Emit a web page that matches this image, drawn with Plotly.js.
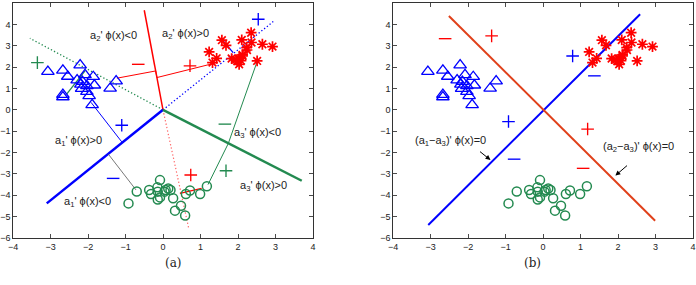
<!DOCTYPE html>
<html><head><meta charset="utf-8">
<script src="https://cdn.plot.ly/plotly-3.0.1.min.js"></script>
<style>html,body{margin:0;padding:0;background:#fff}#c{width:696px;height:285px}</style>
</head><body><div id="c"></div>
<script>
// ---- data ----
const triX = [-3.07,-2.67,-2.21,-2.54,-1.86,-2.29,-2.15,-2.08,-2.03,-1.83,-2.19,-2.67,-2.67,-2.03,-1.97,-1.89,-1.25,-1.41,-2.17];
const triY = [1.79,1.85,2.09,1.56,1.55,1.39,1.32,1.64,1.12,1.15,1.19,0.71,0.60,0.85,0.65,0.23,1.34,1.00,0.99];
const astX = [1.23,1.32,1.43,1.57,1.68,1.83,1.95,2.02,2.08,2.12,1.98,2.03,2.10,2.35,2.36,2.23,2.24,2.65,2.92,2.51,2.12];
const astY = [2.71,2.21,2.41,3.26,3.02,2.40,2.35,2.38,2.30,2.52,2.28,2.13,3.27,3.61,3.15,2.91,2.80,3.07,2.96,2.29,2.57];
const cirX = [-0.92,-0.70,-0.37,-0.32,-0.14,-0.08,-0.15,-0.08,-0.14,0.07,0.14,0.04,0.27,0.32,0.48,0.59,0.61,0.72,0.99,1.17,0.20];
const cirY = [-4.38,-3.82,-3.75,-3.94,-3.83,-3.29,-3.63,-4.10,-4.20,-3.75,-3.68,-3.83,-4.14,-4.72,-4.49,-4.95,-3.94,-3.78,-3.94,-3.58,-3.75];

// panel (a) boundary lines
const redBoundX = [-0.5, 0], redBoundY = [4.66, 0];
const redDotX = [0, 0.68], redDotY = [0, -5.5];
const blueBoundX = [0, -3.1], blueBoundY = [0, -4.38];
const blueDotX = [0, 2.94], blueDotY = [0, 4.13];
const greenBoundX = [0, 3.7], greenBoundY = [0, -3.32];
const greenDotX = [0, -3.55], greenDotY = [0, 3.35];
// panel (a) margin lines
const redMarX = [-1.23, -0.195, -0.162, 1.37], redMarY = [1.48, 1.82, 1.51, 2.18];
const redShortX = [0.45, 1.03], redShortY = [-3.91, -3.68];
const blueMarX = [-1.92, -1.1], blueMarY = [0.35, -1.5];
const blueShortX = [1.57, 1.87], blueShortY = [3.3, 2.68];
const grayMarX = [-1.46, -0.72], grayMarY = [-2.07, -3.75];
const greenMarX = [2.5, 1.74, 1.2], greenMarY = [2.21, -1.58, -3.5];
const greenShortX = [-2.57, -2.08], greenShortY = [0.73, 1.82];

// panel (a) signs
const aPlusX = [-3.35, 2.54, 0.72, -1.1, 0.74, 1.68];
const aPlusY = [2.21, 4.24, 2.06, -0.72, -3.05, -2.85];
const aPlusC = ['g','b','r','b','r','g'];
const aMinusX = [-0.66, 1.65, -1.33];
const aMinusY = [2.13, -0.67, -3.21];
const aMinusC = ['r','g','b'];

// panel (a) labels
const aLabels = ["a<sub>2</sub>' ϕ(x)&lt;0","a<sub>2</sub>' ϕ(x)&gt;0","a<sub>3</sub>' ϕ(x)&lt;0","a<sub>1</sub>' ϕ(x)&gt;0","a<sub>3</sub>' ϕ(x)&gt;0","a<sub>1</sub>' ϕ(x)&lt;0"];
const aLabelX = [-1.33, 0.59, 2.53, -2.26, 2.67, -2.02];
const aLabelY = [3.46, 3.55, -1.07, -1.45, -3.55, -4.33];

// panel (b)
const bBlueX = [-3.06, 2.59], bBlueY = [-5.39, 4.47];
const bRedX = [-2.51, 2.99], bRedY = [4.39, -5.19];
const bPlusX = [-1.37, 0.79, -0.92, 1.19];
const bPlusY = [3.46, 2.52, -0.55, -0.9];
const bPlusC = ['r','b','b','r'];
const bMinusX = [-2.61, 1.37, -0.77, 1.07];
const bMinusY = [3.33, 1.59, -2.31, -2.74];
const bMinusC = ['r','b','b','r'];
const bLabels = ["(a<sub>1</sub>−a<sub>3</sub>)' ϕ(x)=0", "(a<sub>2</sub>−a<sub>3</sub>)' ϕ(x)=0"];
const bLabelX = [-2.48, 2.54], bLabelY = [-1.45, -1.73];
const bArrowTipX = [-1.4, 1.93], bArrowTipY = [-2.35, -3.08];
const bArrowTailX = [-1.72, 2.28], bArrowTailY = [-1.9, -2.55];

const tickVals = [-4,-3,-2,-1,0,1,2,3,4];
const yTickVals = [-6,-5,-4,-3,-2,-1,0,1,2,3,4,5];

// ---- styles ----
const COL = {b:'#0000ff', r:'#ff0000', g:'#238a50', k:'#555555'};
const REDB = '#e0401a';

function line(x, y, color, width, dash, ax) {
  return {x, y, type:'scatter', mode:'lines', xaxis:ax[0], yaxis:ax[1],
    line:{color, width, dash: dash||'solid'}, hoverinfo:'skip', showlegend:false};
}
function pts(x, y, symbol, color, size, lw, ax) {
  return {x, y, type:'scatter', mode:'markers', xaxis:ax[0], yaxis:ax[1],
    marker:{symbol, size, color, line:{color, width:lw}}, hoverinfo:'skip', showlegend:false};
}
function signs(x, y, c, symbol, ax) {
  const cols = c.map(k=>COL[k]);
  return {x, y, type:'scatter', mode:'markers', xaxis:ax[0], yaxis:ax[1],
    marker:{symbol, size:9, color:cols, line:{color:cols, width:1.35}}, hoverinfo:'skip', showlegend:false};
}
const A = ['x','y'], B = ['x2','y2'];
const DOT = '1.3px,2.2px';
function dataPts(ax) {
  return [
    pts(triX, triY, 'triangle-up-open', COL.b, 11, 1.3, ax),
    pts(astX, astY, 'asterisk-open', COL.r, 9, 1.7, ax),
    pts(cirX, cirY, 'circle-open', COL.g, 9, 1.5, ax)
  ];
}
const traces = [
  line(greenDotX, greenDotY, COL.g, 1.3, DOT, A),
  line(blueDotX, blueDotY, COL.b, 1.3, DOT, A),
  line(redDotX, redDotY, '#ff6666', 1.2, DOT, A),
  line(redBoundX, redBoundY, COL.r, 1.5, 'solid', A),
  line(blueBoundX, blueBoundY, COL.b, 2.5, 'solid', A),
  line(greenBoundX, greenBoundY, COL.g, 2.5, 'solid', A),
  line(redMarX, redMarY, COL.r, 1, 'solid', A),
  line(redShortX, redShortY, COL.r, 1.3, 'solid', A),
  line(blueMarX, blueMarY, COL.b, 1, 'solid', A),
  line(blueShortX, blueShortY, COL.b, 1.3, 'solid', A),
  line(grayMarX, grayMarY, COL.k, 0.8, 'solid', A),
  line(greenMarX, greenMarY, COL.g, 1, 'solid', A),
  line(greenShortX, greenShortY, COL.g, 1.3, 'solid', A),
  ...dataPts(A),
  signs(aPlusX, aPlusY, aPlusC, 'cross-thin-open', A),
  signs(aMinusX, aMinusY, aMinusC, 'line-ew-open', A),
  line(bBlueX, bBlueY, COL.b, 2, 'solid', B),
  line(bRedX, bRedY, REDB, 2, 'solid', B),
  ...dataPts(B),
  signs(bPlusX, bPlusY, bPlusC, 'cross-thin-open', B),
  signs(bMinusX, bMinusY, bMinusC, 'line-ew-open', B)
];

const annots = [];
aLabels.forEach((t,i)=>annots.push({x:aLabelX[i], y:aLabelY[i], xref:'x', yref:'y', text:t, showarrow:false,
  font:{family:'Liberation Sans, Arial', size:11, color:'#222'}}));
bLabels.forEach((t,i)=>{
  annots.push({x:bLabelX[i], y:bLabelY[i], xref:'x2', yref:'y2', text:t, showarrow:false,
    font:{family:'Liberation Sans, Arial', size:11, color:'#222'}});
  annots.push({x:bArrowTipX[i], y:bArrowTipY[i], xref:'x2', yref:'y2', text:'', showarrow:true,
    ax:bArrowTailX[i], ay:bArrowTailY[i], axref:'x2', ayref:'y2', arrowhead:2, arrowsize:1, arrowwidth:1, arrowcolor:'#000'});
});
annots.push({x:0.234, y:0.045, xref:'paper', yref:'paper', text:'(a)', showarrow:false,
  font:{family:'DejaVu Serif, Liberation Serif, serif', size:12, color:'#222'}});
annots.push({x:0.78, y:0.045, xref:'paper', yref:'paper', text:'(b)', showarrow:false,
  font:{family:'DejaVu Serif, Liberation Serif, serif', size:12, color:'#222'}});

function xax(domain, anchor) {
  return {domain, anchor, range:[-4,4], tickvals:tickVals, ticks:'inside', ticklen:4, tickcolor:'#000', tickwidth:0.7,
    showline:true, linecolor:'#000', linewidth:0.8, mirror:'ticks', showgrid:false, zeroline:false,
    tickfont:{family:'Liberation Sans, Arial', size:9, color:'#222'}, fixedrange:true};
}
function yax(domain, anchor) {
  return {domain, anchor, range:[-6,5], tickvals:yTickVals, ticks:'inside', ticklen:4, tickcolor:'#000', tickwidth:0.7,
    showline:true, linecolor:'#000', linewidth:0.8, mirror:'ticks', showgrid:false, zeroline:false,
    tickfont:{family:'Liberation Sans, Arial', size:9, color:'#222'}, fixedrange:true};
}
const yd = [47/285, 282/285];
const layout = {
  width:696, height:285, margin:{l:0, r:0, t:0, b:0}, paper_bgcolor:'#fff', plot_bgcolor:'#fff',
  showlegend:false,
  xaxis: xax([13/696, 313/696], 'y'),
  yaxis: yax(yd, 'x'),
  xaxis2: xax([393/696, 693/696], 'y2'),
  yaxis2: yax(yd, 'x2'),
  annotations: annots
};
Plotly.newPlot('c', traces, layout, {displayModeBar:false, staticPlot:true});
</script></body></html>
